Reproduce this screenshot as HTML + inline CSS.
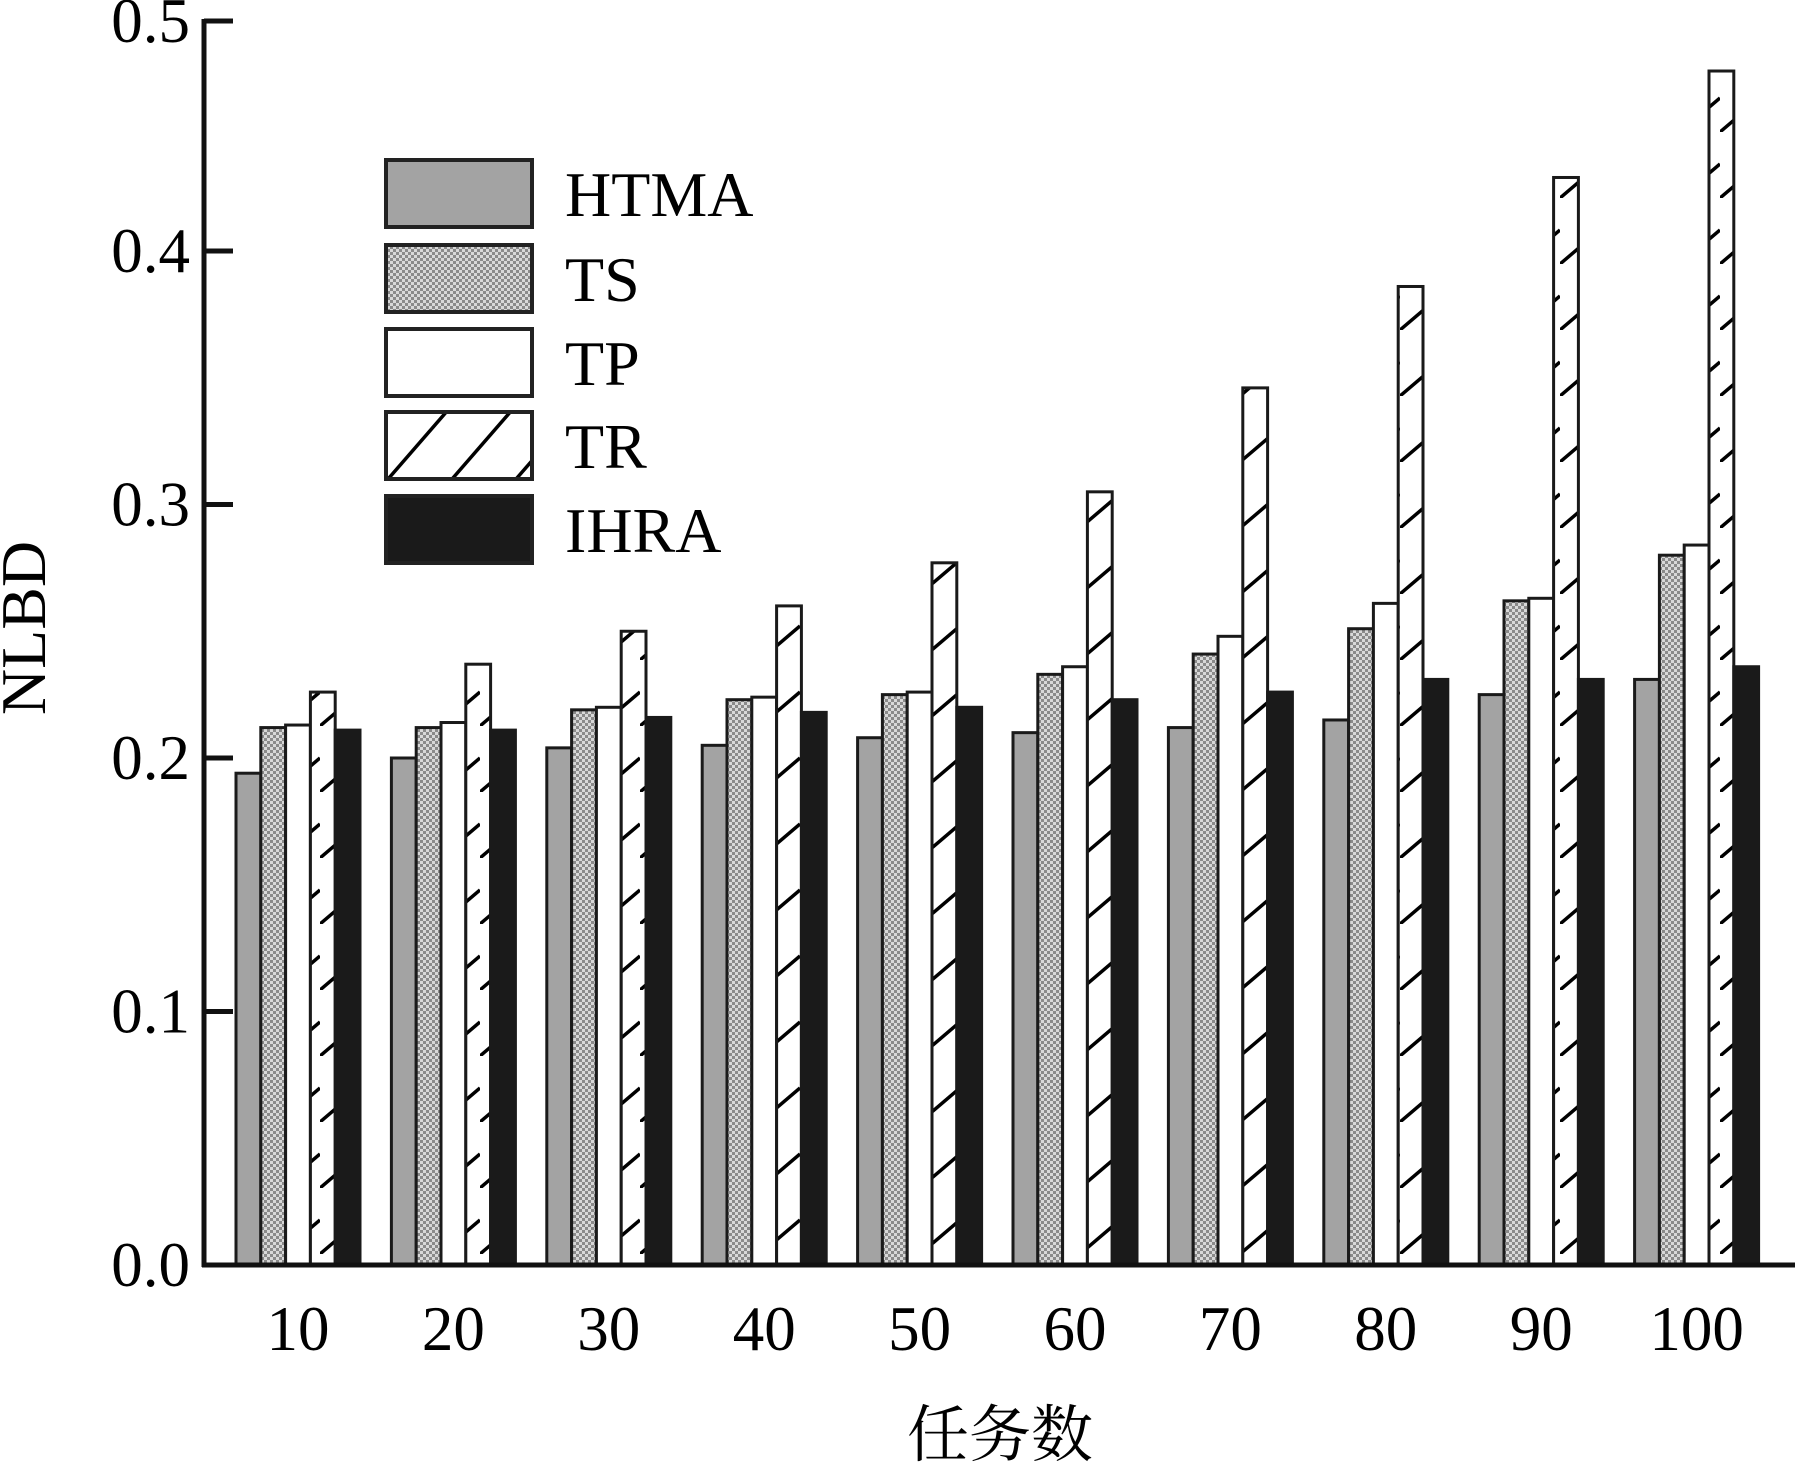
<!DOCTYPE html>
<html><head><meta charset="utf-8"><style>
html,body{margin:0;padding:0;background:#fff;}
svg{display:block;}
text{font-family:"Liberation Serif","Noto Serif CJK SC",serif;fill:#000;}
</style></head><body>
<svg id="chart" width="1806" height="1469" viewBox="0 0 1806 1469" xmlns="http://www.w3.org/2000/svg">
<defs>
<pattern id="dots" width="6" height="6" patternUnits="userSpaceOnUse">
<rect width="6" height="6" fill="#d8d8d8"/>
<rect width="3" height="3" fill="#8a8a8a"/>
<rect x="3" y="3" width="3" height="3" fill="#8a8a8a"/>
</pattern>
<pattern id="hatch" width="40" height="66" patternUnits="userSpaceOnUse">
<rect width="40" height="66" fill="#fff"/>
<line x1="0" y1="66" x2="40" y2="32" stroke="#000" stroke-width="3.5"/>
</pattern>
<pattern id="hatchL" x="386" y="414" width="64" height="68" patternUnits="userSpaceOnUse">
<rect width="64" height="68" fill="#fff"/>
<line x1="-4" y1="72" x2="62" y2="-4" stroke="#000" stroke-width="3.5"/>
</pattern>
</defs>
<g id="bars"></g>
<g id="axes"></g>
<g id="legend"></g>
</svg>
<script>
const categories = ["10","20","30","40","50","60","70","80","90","100"];
const seriesNames = ["HTMA","TS","TP","TR","IHRA"];
const htma = [0.194,0.200,0.204,0.205,0.208,0.210,0.212,0.215,0.225,0.231];
const ts   = [0.212,0.212,0.219,0.223,0.225,0.233,0.241,0.251,0.262,0.280];
const tp   = [0.213,0.214,0.220,0.224,0.226,0.236,0.248,0.261,0.263,0.284];
const tr   = [0.226,0.237,0.250,0.260,0.277,0.305,0.346,0.386,0.429,0.471];
const ihra = [0.211,0.211,0.216,0.218,0.220,0.223,0.226,0.231,0.231,0.236];
const yTicks = ["0.0","0.1","0.2","0.3","0.4"];
const yTickVals = [0,0.1,0.2,0.3,0.4];

const NS = "http://www.w3.org/2000/svg";
const baseY = 1265, perUnit = 2535, axisX = 204;
function yScale(v){ return baseY - v*perUnit; }
const groupStart = 236, groupStep = 155.4, barW = 24.8;
function xScale(i, s){ return groupStart + i*groupStep + s*barW; }
function mk(tag, attrs, parent){ const e=document.createElementNS(NS,tag); for(const k in attrs) e.setAttribute(k,attrs[k]); parent.appendChild(e); return e; }

const fills = ["#a3a3a3","url(#dots)","#ffffff","url(#hatch)","#1a1a1a"];
const allSeries = [htma, ts, tp, tr, ihra];
const barsG = document.getElementById("bars");
allSeries.forEach((vals, s) => {
  vals.forEach((v, i) => {
    const y = yScale(v);
    const r = mk("rect", {x:xScale(i,s), y:y, width:barW, height:baseY-y, fill:fills[s], stroke:"#1a1a1a", "stroke-width":3}, barsG);
    
    
  });
});

const ax = document.getElementById("axes");
const yl = mk("line", {x1:axisX, y1:19, x2:axisX, y2:baseY+2, stroke:"#111", "stroke-width":5}, ax);


const xl = mk("line", {x1:axisX-2, y1:baseY, x2:1795, y2:baseY, stroke:"#111", "stroke-width":5}, ax);


yTickVals.forEach((v, k) => {
  const y = yScale(v);
  if (v > 0) {
    const t = mk("line", {x1:axisX, y1:y, x2:axisX+29, y2:y, stroke:"#111", "stroke-width":5}, ax);
    
    
  }
  const lb = mk("text", {x:190, y:y+21, "text-anchor":"end", "font-size":63}, ax);
  lb.textContent = yTicks[k];
  
  
});
const tt = mk("line", {x1:axisX, y1:21, x2:axisX+29, y2:21, stroke:"#111", "stroke-width":5}, ax);


const tl = mk("text", {x:190, y:42, "text-anchor":"end", "font-size":63}, ax);
tl.textContent = "0.5";



categories.forEach((c, i) => {
  const cx = xScale(i, 2.5);
  const t = mk("text", {x:cx, y:1350, "text-anchor":"middle", "font-size":63}, ax);
  t.textContent = c;
  
  
});
const xt = mk("text", {x:1000, y:1456, "text-anchor":"middle", "font-size":62}, ax);
xt.textContent = "任务数";


const ytt = mk("text", {x:0, y:0, "text-anchor":"middle", "font-size":64, transform:"translate(45,628) rotate(-90)"}, ax);
ytt.textContent = "NLBD";



const lg = document.getElementById("legend");
const legFills = ["#a3a3a3","url(#dots)","#ffffff","url(#hatchL)","#1a1a1a"];
const legY = [160, 245, 329, 412, 496];
seriesNames.forEach((n, s) => {
  const r = mk("rect", {x:386, y:legY[s], width:146, height:67, fill:legFills[s], stroke:"#222", "stroke-width":4}, lg);
  
  
  const t = mk("text", {x:565, y:legY[s]+56, "font-size":64}, lg);
  t.textContent = n;
  
  
});
</script>
</body></html>
